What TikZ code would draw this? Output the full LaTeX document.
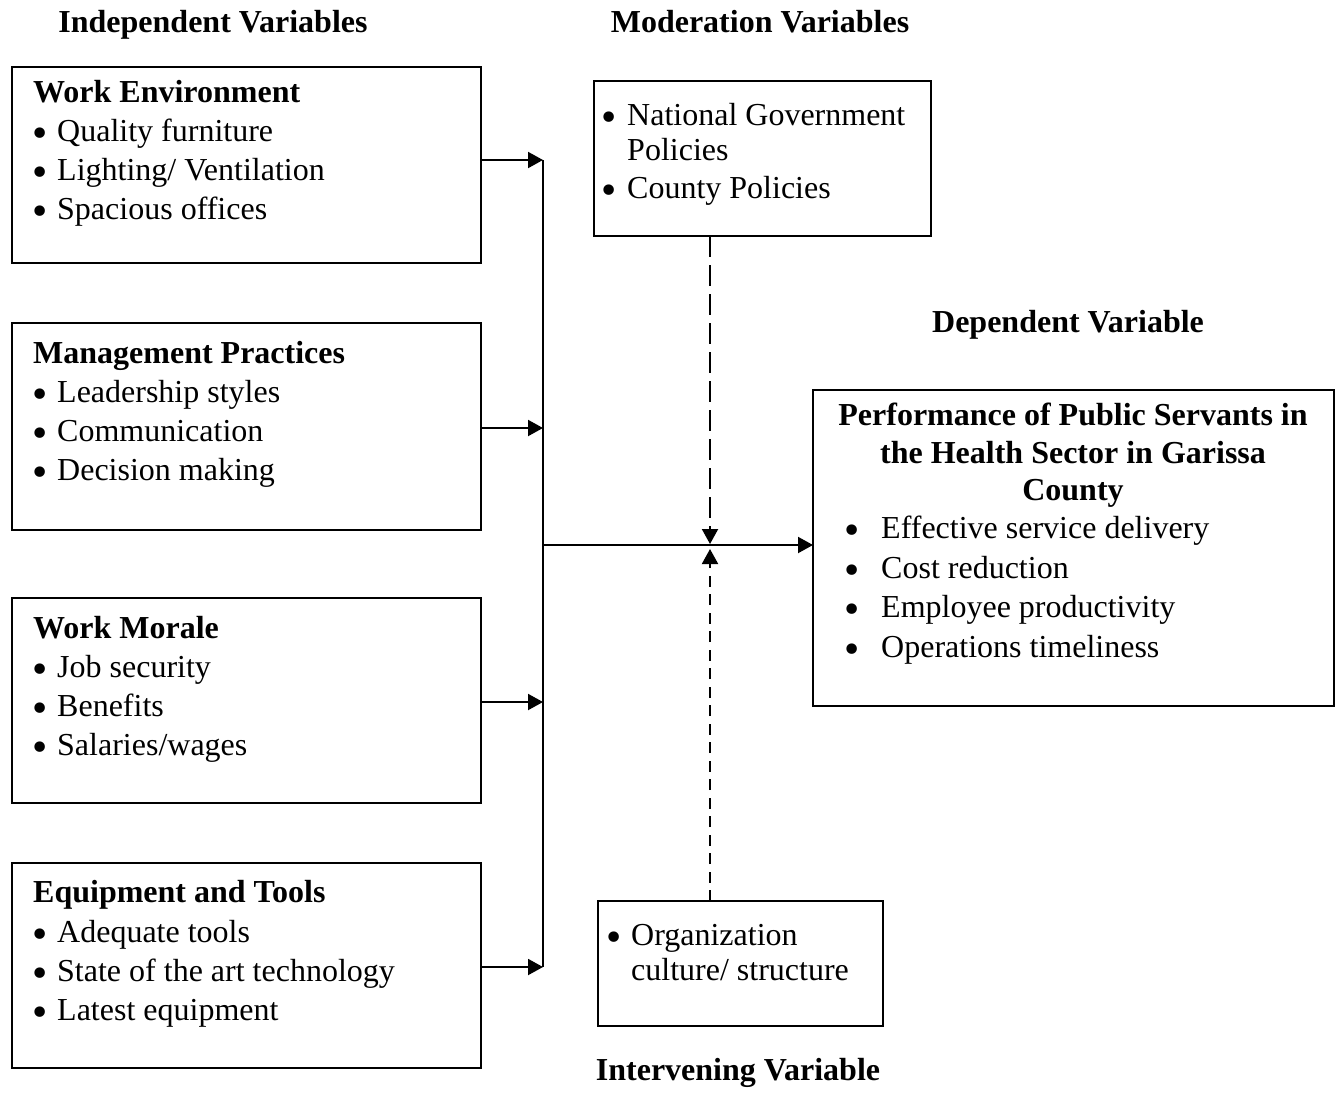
\documentclass[tikz,border=0pt]{standalone}
\usepackage{fontspec}
\setmainfont{Liberation Serif}
\newfontfamily\bulfont{DejaVu Sans}
\usetikzlibrary{arrows.meta}
\newsavebox\bulbox
% bullet centred #1/2 to the left of the text start
\newcommand\bl[1]{\sbox\bulbox{\bulfont\fontsize{36}{38}\selectfont •}%
  \llap{\makebox[#1][c]{\raisebox{\dimexpr3.5pt-0.5\ht\bulbox+0.5\dp\bulbox\relax}{\usebox\bulbox}}}}
\begin{document}
\begin{tikzpicture}[x=1pt,y=-1pt,
  box/.style={draw, line width=2pt, inner sep=0pt, outer sep=0pt},
  txt/.style={inner sep=0pt, anchor=base west, font=\fontsize{32}{38}\selectfont},
  ttl/.style={inner sep=0pt, anchor=base west, font=\fontsize{32}{38}\selectfont\bfseries},
  hdr/.style={inner sep=0pt, anchor=base, font=\fontsize{32}{38}\selectfont\bfseries},
  ln/.style={line width=2pt},
  arr/.style={line width=2pt, -{Triangle[length=15pt,width=16pt]}},
  dashA/.style={dash pattern=on 21pt off 8pt},
  dashB/.style={dash pattern=on 11pt off 7.5pt}]
\useasboundingbox (0,0) rectangle (1340,1114);
\fill[white] (0,0) rectangle (1340,1114);

% headers
\node[hdr] (hind) at (213,32) {Independent Variables};
\node[hdr] (hmod) at (760,32) {Moderation Variables};
\node[hdr] (hdep) at (1068,332) {Dependent Variable};
\node[hdr] (hint) at (738,1080) {Intervening Variable};

% boxes
\node[box, minimum width=469pt, minimum height=196pt] (we) at (246.5,165) {};
\node[box, minimum width=469pt, minimum height=207pt] (mp) at (246.5,426.5) {};
\node[box, minimum width=469pt, minimum height=205pt] (wm) at (246.5,700.5) {};
\node[box, minimum width=469pt, minimum height=205pt] (et) at (246.5,965.5) {};
\node[box, minimum width=337pt, minimum height=155pt] (mod) at (762.5,158.5) {};
\node[box, minimum width=285pt, minimum height=125pt] (int) at (740.5,963.5) {};
\node[box, minimum width=521pt, minimum height=316pt] (dep) at (1073.5,548) {};

% Work Environment
\node[ttl] (we0) at (33,102) {Work Environment};
\node[txt] (we1) at (57,141) {\bl{34pt}Quality furniture};
\node[txt] (we2) at (57,180) {\bl{34pt}Lighting/ Ventilation};
\node[txt] (we3) at (57,219) {\bl{34pt}Spacious offices};

% Management Practices
\node[ttl] (mp0) at (33,363) {Management Practices};
\node[txt] (mp1) at (57,402) {\bl{34pt}Leadership styles};
\node[txt] (mp2) at (57,441) {\bl{34pt}Communication};
\node[txt] (mp3) at (57,480) {\bl{34pt}Decision making};

% Work Morale
\node[ttl] (wm0) at (33,638) {Work Morale};
\node[txt] (wm1) at (57,677) {\bl{34pt}Job security};
\node[txt] (wm2) at (57,716) {\bl{34pt}Benefits};
\node[txt] (wm3) at (57,755) {\bl{34pt}Salaries/wages};

% Equipment and Tools
\node[ttl] (et0) at (33,902) {Equipment and Tools};
\node[txt] (et1) at (57,942) {\bl{34pt}Adequate tools};
\node[txt] (et2) at (57,981) {\bl{34pt}State of the art technology};
\node[txt] (et3) at (57,1020) {\bl{34pt}Latest equipment};

% Moderation
\node[txt] (mo1) at (627,125) {\bl{36pt}National Government};
\node[txt] (mo1c) at (627,160) {Policies};
\node[txt] (mo2) at (627,198) {\bl{36pt}County Policies};

% Intervening
\node[txt] (in1) at (631,945) {\bl{34pt}Organization};
\node[txt] (in1c) at (631,980) {culture/ structure};

% Dependent
\node[ttl, anchor=base] (dp0) at (1073,425) {Performance of Public Servants in};
\node[ttl, anchor=base] (dp0b) at (1073,463) {the Health Sector in Garissa};
\node[ttl, anchor=base] (dp0c) at (1073,500) {County};
\node[txt] (dp1) at (881,538) {\bl{58pt}Effective service delivery};
\node[txt] (dp2) at (881,578) {\bl{58pt}Cost reduction};
\node[txt] (dp3) at (881,617) {\bl{58pt}Employee productivity};
\node[txt] (dp4) at (881,657) {\bl{58pt}Operations timeliness};

% connectors
\coordinate (j1) at (543,160);
\coordinate (j2) at (543,428);
\coordinate (j3) at (543,702);
\coordinate (j4) at (543,967);
\coordinate (jm) at (543,545);
\coordinate (x) at (710,545);

\draw[ln] (j1) -- (j4);
\draw[arr] (j1 -| we.east) -- (j1);
\draw[arr] (j2 -| mp.east) -- (j2);
\draw[arr] (j3 -| wm.east) -- (j3);
\draw[arr] (j4 -| et.east) -- (j4);
\draw[arr] (jm) -- (jm -| dep.west);
\draw[arr, dashA] (x |- mod.south) -- ([yshift=1pt]x);
\draw[arr, dashB] (x |- int.north) -- ([yshift=-4pt]x);
\end{tikzpicture}
\end{document}
